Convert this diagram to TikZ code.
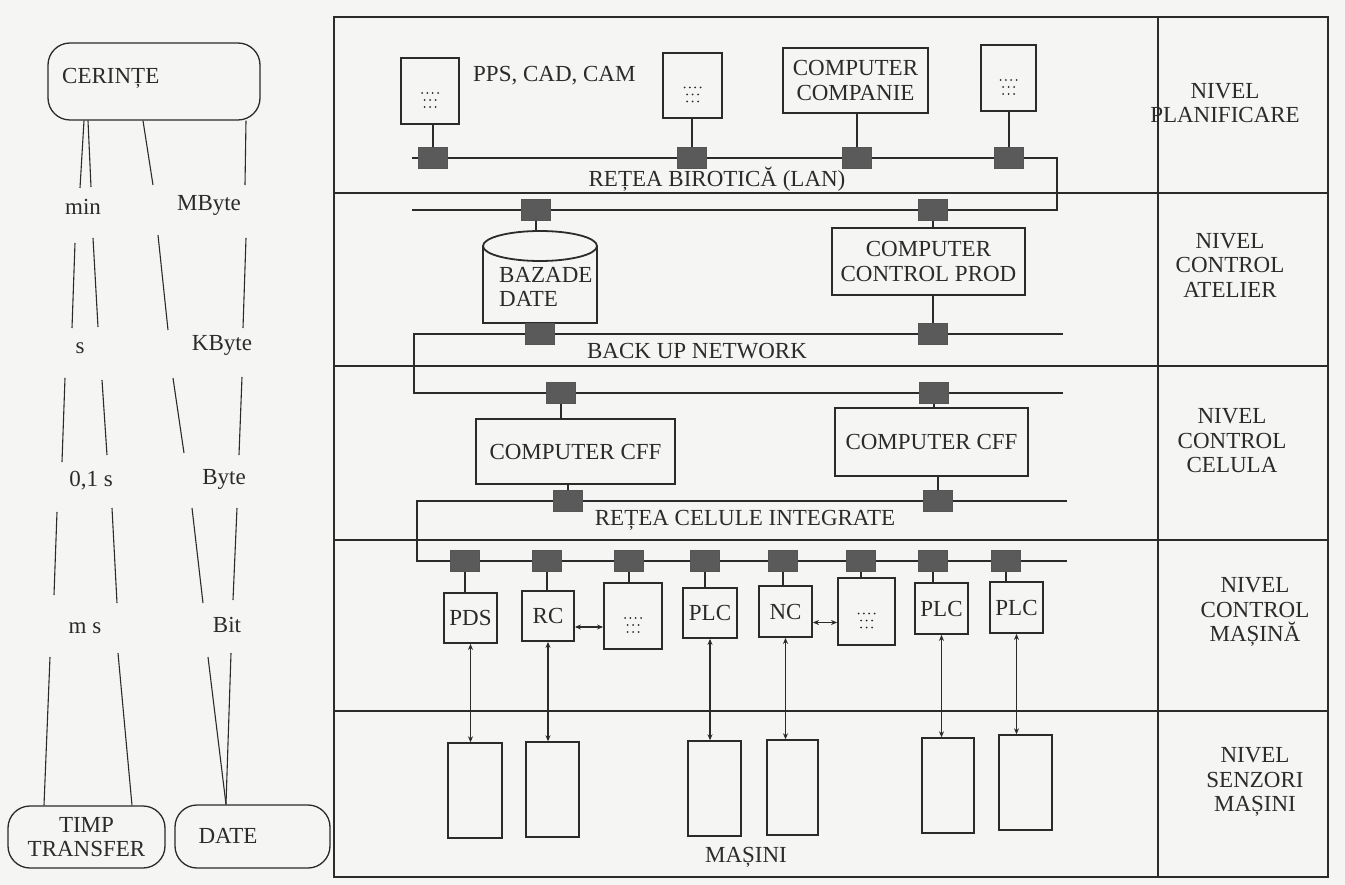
\documentclass[tikz,border=0pt]{standalone}
\usepackage{fontspec}
\setmainfont{Liberation Serif}
\usetikzlibrary{arrows.meta}
\definecolor{ink}{HTML}{2B2B2B}
\definecolor{paper}{HTML}{F5F5F3}
\definecolor{plug}{HTML}{5A5A5A}
\newcommand{\dotgridat}[1]{%
  \begin{scope}[shift={(#1)}]
    \foreach \dx in {-8,-2.7,2.7,8} \fill[ink] (\dx,2) circle[radius=1];
    \foreach \dx in {-5.5,0,5.5} {\fill[ink] (\dx,9) circle[radius=1]; \fill[ink] (\dx,16) circle[radius=1];}
  \end{scope}}
\begin{document}
\begin{tikzpicture}[x=1pt,y=-1pt,
  every node/.style={font=\fontsize{23}{24.5}\selectfont, text=ink},
  box/.style={draw=ink, line width=1.8pt, inner sep=0pt},
  mbox/.style={draw=ink, line width=1.4pt, inner sep=0pt, minimum width=53pt, minimum height=95pt},
  rbox/.style={draw=ink, line width=1.3pt, rounded corners=22pt, inner sep=0pt},
  net/.style={draw=ink, line width=1.2pt},
  wire/.style={draw=ink, line width=1.1pt},
  plugsq/.style={draw=ink!80, fill=plug, minimum width=29pt, minimum height=21pt, inner sep=0pt, line width=0.6pt},
  biarrow/.style={draw=ink, line width=1.1pt, {Stealth[length=6pt,width=5pt]}-{Stealth[length=6pt,width=5pt]}},
  lbl/.style={align=center, inner sep=0pt},
]
\fill[paper] (0,0) rectangle (1345,885);
\useasboundingbox (0,0) rectangle (1345,885);

% ---------- frame ----------
\draw[ink, line width=1.8pt] (334,17) rectangle (1328,877);
\draw[ink, line width=1.3pt] (1158,17) -- (1158,877);
\foreach \yy in {193,366,540,711} \draw[ink, line width=1.3pt] (334,\yy) -- (1328,\yy);

% ---------- level labels ----------
\node[lbl] (lv1) at (1225,103) {NIVEL\\PLANIFICARE};
\node[lbl] (lv2) at (1230,265) {NIVEL\\CONTROL\\ATELIER};
\node[lbl] (lv3) at (1232,441) {NIVEL\\CONTROL\\CELULA};
\node[lbl] (lv4) at (1255,612) {NIVEL\\CONTROL\\MAȘINĂ};
\node[lbl] (lv5) at (1255,782) {NIVEL\\SENZORI\\MAȘINI};

% ---------- planning level ----------
\node[box, minimum width=58pt, minimum height=66pt] (t1) at (430,91) {};
\node[box, minimum width=59pt, minimum height=65pt] (t2) at (692.5,85.5) {};
\node[box, minimum width=145pt, minimum height=65pt, align=center] (tc) at (855.5,80.5) {COMPUTER\\COMPANIE};
\node[box, minimum width=55pt, minimum height=66pt] (t4) at (1008.5,78) {};
\dotgridat{t1.center}
\dotgridat{t2.center}
\dotgridat{t4.center}
\node[lbl, anchor=west] (pps) at (473,76) {PPS, CAD, CAM};

\draw[net] (412,158) -- (1057,158) -- (1057,210) -- (412,210);
\node[lbl] (lan) at (717,179) {REȚEA BIROTICĂ (LAN)};
\node[plugsq] (s1) at (433,158) {};
\node[plugsq] (s2) at (692,158) {};
\node[plugsq] (s3) at (857,158) {};
\node[plugsq] (s4) at (1009,158) {};
\draw[wire] (t1.south -| s1) -- (s1.north);
\draw[wire] (t2.south -| s2) -- (s2.north);
\draw[wire] (tc.south -| s3) -- (s3.north);
\draw[wire] (t4.south -| s4) -- (s4.north);

% ---------- workshop level ----------
\node[plugsq] (s5) at (536,210) {};
\node[plugsq] (s6) at (933,210) {};
\node[minimum width=114pt, minimum height=92pt, inner sep=0pt] (db) at (540,277) {};
\draw[ink, line width=1.8pt] (483,246) -- (483,323) -- (597,323) -- (597,246);
\draw[ink, line width=1.8pt] (540,246) ellipse [x radius=57, y radius=15];
\node[lbl, anchor=west, align=left] (dbt) at (499,287) {BAZADE\\DATE};
\node[box, minimum width=193pt, minimum height=67pt, align=center] (cp) at (928.5,261.5) {COMPUTER\\CONTROL PROD};
\draw[wire] (s5.south) -- (s5.south |- db.north);
\draw[wire] (s6.south) -- (s6.south |- cp.north);

\draw[net] (1063,334) -- (414,334) -- (414,393) -- (1063,393);
\node[lbl] (bun) at (697,351) {BACK UP NETWORK};
\node[plugsq] (b1) at (540,334) {};
\node[plugsq] (b2) at (933,334) {};
\node[plugsq] (b3) at (561,393) {};
\node[plugsq] (b4) at (934,393) {};
\draw[wire] (db.south) -- (b1.north);
\draw[wire] (cp.south -| b2) -- (b2.north);

% ---------- cell level ----------
\node[box, minimum width=199pt, minimum height=65pt] (cff1) at (575.5,451.5) {COMPUTER CFF};
\node[box, minimum width=193pt, minimum height=68pt] (cff2) at (931.5,442) {COMPUTER CFF};
\draw[wire] (b3.south) -- (b3.south |- cff1.north);
\draw[wire] (b4.south) -- (b4.south |- cff2.north);

\draw[net] (1067,501) -- (417,501) -- (417,561) -- (1067,561);
\node[lbl] (rci) at (745,520) {REȚEA CELULE INTEGRATE};
\node[plugsq] (r1) at (568,501) {};
\node[plugsq] (r2) at (938,501) {};
\draw[wire] (cff1.south -| r1) -- (r1.north);
\draw[wire] (cff2.south -| r2) -- (r2.north);

% ---------- machine control level ----------
\node[box, minimum width=53pt, minimum height=50pt] (pds) at (470.5,618) {PDS};
\node[box, minimum width=52pt, minimum height=50pt] (rc) at (548,616) {RC};
\node[box, minimum width=58pt, minimum height=66pt] (d1) at (633,616) {};
\node[box, minimum width=54pt, minimum height=50pt] (plc1) at (710,613) {PLC};
\node[box, minimum width=53pt, minimum height=51pt] (nc) at (785.5,611.5) {NC};
\node[box, minimum width=57pt, minimum height=67pt] (d2) at (866.5,611.5) {};
\node[box, minimum width=53pt, minimum height=51pt] (plc2) at (941.5,608.5) {PLC};
\node[box, minimum width=53pt, minimum height=51pt] (plc3) at (1016.5,607.5) {PLC};
\dotgridat{d1.center}
\dotgridat{d2.center}

\foreach \n/\xx/\tgt in {q1/465/pds, q2/547/rc, q3/629/d1, q4/705/plc1, q5/783/nc, q6/861/d2, q7/933/plc2, q8/1006/plc3} {
  \node[plugsq] (\n) at (\xx,561) {};
  \draw[wire] (\n.south) -- (\n.south |- \tgt.north);
}
\draw[biarrow] ([yshift=-11pt]rc.east) -- ([yshift=-11pt]rc.east -| d1.west);
\draw[biarrow] ([yshift=-11pt]nc.east) -- ([yshift=-11pt]nc.east -| d2.west);

% ---------- machines ----------
\node[mbox, minimum width=54pt] (m1) at (475,790.5) {};
\node[mbox] (m2) at (552.5,789.5) {};
\node[mbox] (m3) at (714.5,788.5) {};
\node[mbox, minimum width=51pt] (m4) at (792.5,787.5) {};
\node[mbox, minimum width=52pt] (m5) at (948,785.5) {};
\node[mbox] (m6) at (1025.5,782.5) {};
\node[lbl] (masini) at (746,857) {MAȘINI};
\draw[biarrow] (pds.south) -- (pds.south |- m1.north);
\draw[biarrow] (rc.south) -- (rc.south |- m2.north);
\draw[biarrow] (plc1.south) -- (plc1.south |- m3.north);
\draw[biarrow] (nc.south) -- (nc.south |- m4.north);
\draw[biarrow] (plc2.south) -- (plc2.south |- m5.north);
\draw[biarrow] (plc3.south) -- (plc3.south |- m6.north);

% ---------- left side ----------
\node[rbox, minimum width=212pt, minimum height=77pt] (cer) at (154,81.5) {};
\node[lbl, anchor=west] (certxt) at (62,78) {CERINȚE};
\node[rbox, minimum width=157pt, minimum height=62pt, align=center] (tt) at (86.5,837) {TIMP\\TRANSFER};
\node[rbox, minimum width=155pt, minimum height=63pt] (dt) at (252.5,836.5) {};
\node[lbl] (dttxt) at (228,836) {DATE};

\node[lbl] (u1) at (83,207) {min};
\node[lbl] (u2) at (80,348) {s};
\node[lbl] (u3) at (91,481) {0,1 s};
\node[lbl] (u4) at (85,628) {m s};
\node[lbl] (v1) at (209,205) {MByte};
\node[lbl] (v2) at (222,345) {KByte};
\node[lbl] (v3) at (224,479) {Byte};
\node[lbl] (v4) at (227,625) {Bit};

% line A
\draw[wire] (cer.south -| 84,0) -- (80,188);
\draw[wire] (75,243) -- (72,328);
\draw[wire] (65,378) -- (62,462);
\draw[wire] (57,512) -- (54,595);
\draw[wire] (50,657) -- (tt.north -| 44,0);
% line B
\draw[wire] (cer.south -| 88,0) -- (91,187);
\draw[wire] (93,238) -- (98,327);
\draw[wire] (102,380) -- (107,455);
\draw[wire] (112,508) -- (117,603);
\draw[wire] (118,653) -- (tt.north -| 132,0);
% line C
\draw[wire] (cer.south -| 143,0) -- (153,185);
\draw[wire] (158,235) -- (168,330);
\draw[wire] (173,378) -- (184,453);
\draw[wire] (192,508) -- (203,603);
\draw[wire] (208,657) -- (dt.north -| 226,0);
% line D
\draw[wire] (cer.south -| 246,0) -- (245,185);
\draw[wire] (246,238) -- (243,328);
\draw[wire] (242,377) -- (239,455);
\draw[wire] (237,508) -- (233,600);
\draw[wire] (231,653) -- (dt.north -| 226,0);
\end{tikzpicture}
\end{document}
